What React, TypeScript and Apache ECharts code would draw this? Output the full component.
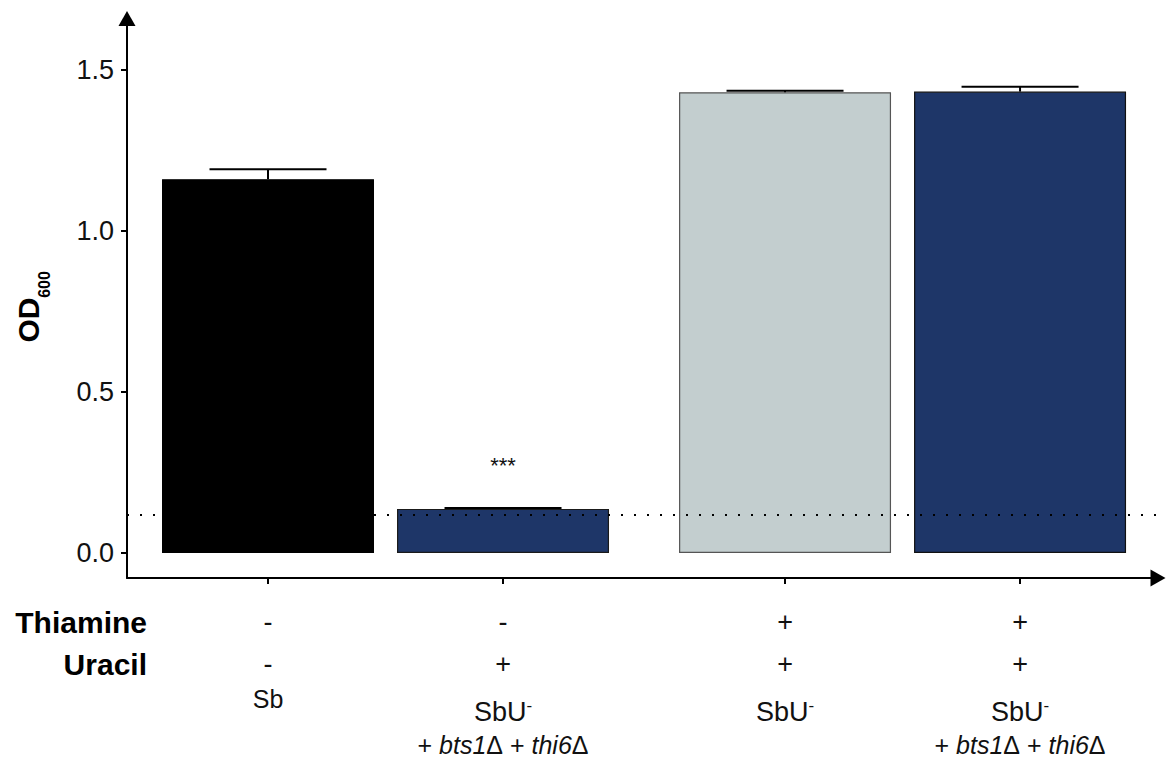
import React, { useEffect, useRef } from "react";
import * as echarts from "echarts";

const positions = [1, 2, 3.2, 4.2];
const means = [1.161, 0.137, 1.431, 1.433];
const errors = [0.031, 0.003, 0.005, 0.015];
const barColors = ["#000000", "#1e3668", "#c3cecf", "#1e3668"];
const barBorders = ["#000000", "#1a1a1a", "#555555", "#111111"];
const thiamine = ["-", "-", "+", "+"];
const uracil = ["-", "+", "+", "+"];
const strains = ["Sb", "SbU", "SbU", "SbU"];
const strainSup = ["", "-", "-", "-"];
const genotypes = ["", "bts1Δ thi6Δ", "", "bts1Δ thi6Δ"];
const significance = ["", "***", "", ""];
const significanceY = 0.272;
const yTicks = [0, 0.5, 1, 1.5];
const threshold = 0.12;

const FONT = "'Liberation Sans', Helvetica, Arial, sans-serif";

export default function App() {
  const ref = useRef<HTMLDivElement>(null);
  useEffect(() => {
    if (!ref.current) return;
    const chart = echarts.init(ref.current, null, { renderer: "svg" });
    const option: any = {
      animation: false,
      backgroundColor: "#ffffff",
      grid: { left: 127, right: 8, top: 18.5, bottom: 182, containLabel: false },
      xAxis: {
        type: "value",
        min: 0.4,
        max: 4.787,
        axisLine: {
          show: true,
          onZero: false,
          symbol: ["none", "triangle"],
          symbolSize: [17, 15],
          lineStyle: { color: "#000", width: 2 },
        },
        axisTick: {
          show: true,
          customValues: positions,
          length: 6,
          lineStyle: { color: "#000", width: 2 },
        },
        axisLabel: { show: false },
        splitLine: { show: false },
      },
      yAxis: {
        type: "value",
        min: -0.0776,
        max: 1.66,
        axisLine: {
          show: true,
          onZero: false,
          symbol: ["none", "triangle"],
          symbolSize: [17, 15],
          lineStyle: { color: "#000", width: 2 },
        },
        axisTick: {
          show: true,
          customValues: yTicks,
          length: 6,
          lineStyle: { color: "#000", width: 2 },
        },
        axisLabel: {
          show: true,
          customValues: yTicks,
          formatter: (v: number) => v.toFixed(1),
          fontSize: 27,
          fontFamily: FONT,
          color: "#111",
          margin: 13,
        },
        splitLine: { show: false },
      },
      series: [
        {
          type: "bar",
          barWidth: 212,
          z: 2,
          data: positions.map((x, i) => ({
            value: [x, means[i]],
            itemStyle: {
              color: barColors[i],
              borderColor: barBorders[i],
              borderWidth: 1.2,
            },
          })),
        },
        {
          type: "custom",
          z: 3,
          data: positions.map((x, i) => [x, means[i], errors[i]]),
          renderItem: (params: any, api: any) => {
            const x = api.value(0);
            const m = api.value(1);
            const e = api.value(2);
            const p0 = api.coord([x, m]);
            const p1 = api.coord([x, m + e]);
            const hw = 58.5;
            return {
              type: "group",
              children: [
                {
                  type: "line",
                  shape: { x1: p0[0], y1: p0[1], x2: p1[0], y2: p1[1] },
                  style: { stroke: "#000", lineWidth: 2 },
                },
                {
                  type: "line",
                  shape: { x1: p1[0] - hw, y1: p1[1], x2: p1[0] + hw, y2: p1[1] },
                  style: { stroke: "#000", lineWidth: 2 },
                },
              ],
            };
          },
        },
        {
          type: "line",
          z: 5,
          data: [],
          markLine: {
            silent: true,
            symbol: ["none", "none"],
            label: { show: false },
            lineStyle: { color: "#000", width: 2, type: [2, 11] },
            data: [{ yAxis: threshold }],
          },
        },
      ],
    };
    chart.setOption(option);

    const px = (x: number, y: number) =>
      chart.convertToPixel({ gridIndex: 0 }, [x, y]) as number[];

    const g: any[] = [];
    const rowThiamine = 622;
    const rowUracil = 664;
    g.push({
      type: "text",
      x: 147,
      y: rowThiamine,
      style: {
        text: "Thiamine",
        fontSize: 30,
        fontWeight: "bold",
        fontFamily: FONT,
        fill: "#000",
        align: "right",
        verticalAlign: "middle",
      },
    });
    g.push({
      type: "text",
      x: 147,
      y: rowUracil,
      style: {
        text: "Uracil",
        fontSize: 30,
        fontWeight: "bold",
        fontFamily: FONT,
        fill: "#000",
        align: "right",
        verticalAlign: "middle",
      },
    });
    positions.forEach((xv, i) => {
      const cx = px(xv, 0)[0];
      g.push({
        type: "text",
        x: cx,
        y: rowThiamine,
        style: {
          text: thiamine[i],
          fontSize: 27,
          fontFamily: FONT,
          fill: "#111",
          align: "center",
          verticalAlign: "middle",
        },
      });
      g.push({
        type: "text",
        x: cx,
        y: rowUracil,
        style: {
          text: uracil[i],
          fontSize: 27,
          fontFamily: FONT,
          fill: "#111",
          align: "center",
          verticalAlign: "middle",
        },
      });
      if (strainSup[i]) {
        g.push({
          type: "text",
          x: cx,
          y: 712,
          style: {
            text: `{a|${strains[i]}}{s|${strainSup[i]}}`,
            align: "center",
            verticalAlign: "middle",
            rich: {
              a: { fontSize: 27, fontFamily: FONT, fill: "#111", lineHeight: 30 },
              s: { fontSize: 17, fontFamily: FONT, fill: "#111", verticalAlign: "top", lineHeight: 18 },
            },
          },
        });
      } else {
        g.push({
          type: "text",
          x: cx,
          y: 699,
          style: {
            text: strains[i],
            fontSize: 25,
            fontFamily: FONT,
            fill: "#111",
            align: "center",
            verticalAlign: "middle",
          },
        });
      }
      if (genotypes[i]) {
        const parts = genotypes[i].split(" ");
        const txt = parts
          .map((p) => {
            const name = p.replace("Δ", "");
            return `{n|+ }{i|${name}}{n|Δ}`;
          })
          .join("{n| }");
        g.push({
          type: "text",
          x: cx,
          y: 745,
          style: {
            text: txt,
            align: "center",
            verticalAlign: "middle",
            rich: {
              n: { fontSize: 25, fontFamily: FONT, fill: "#111" },
              i: { fontSize: 25, fontFamily: FONT, fill: "#111", fontStyle: "italic" },
            },
          },
        });
      }
      if (significance[i]) {
        const p = px(xv, significanceY);
        g.push({
          type: "text",
          x: p[0],
          y: p[1],
          style: {
            text: significance[i],
            fontSize: 22,
            fontFamily: FONT,
            fill: "#111",
            align: "center",
            verticalAlign: "middle",
          },
        });
      }
    });
    // y axis title
    g.push({
      type: "group",
      x: 28,
      y: 308.5,
      rotation: Math.PI / 2,
      children: [
        {
          type: "text",
          x: -11.5,
          y: 0,
          style: {
            text: "OD",
            fontSize: 30,
            fontWeight: "bold",
            fontFamily: FONT,
            fill: "#000",
            align: "center",
            verticalAlign: "middle",
          },
        },
        {
          type: "text",
          x: 24,
          y: 16,
          style: {
            text: "600",
            fontSize: 16,
            fontWeight: "bold",
            fontFamily: FONT,
            fill: "#000",
            align: "center",
            verticalAlign: "middle",
          },
        },
      ],
    });
    chart.setOption({ graphic: g });

    return () => chart.dispose();
  }, []);
  return (
    <div
      ref={ref}
      style={{ position: "absolute", left: 0, top: 0, width: 1166, height: 760 }}
    />
  );
}
